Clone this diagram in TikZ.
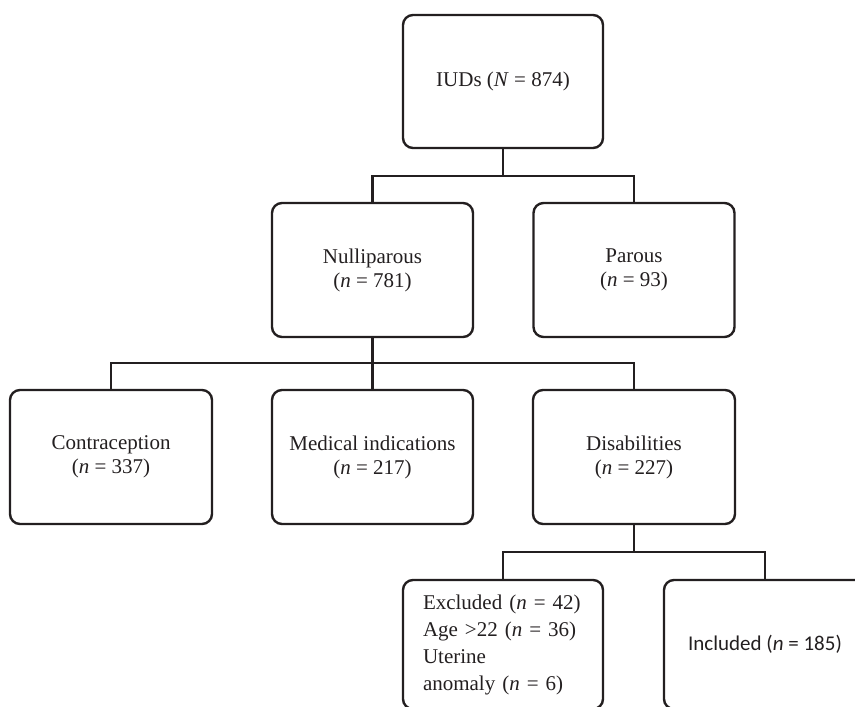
\documentclass[tikz,border=0pt]{standalone}
\usepackage{fontspec}
\setmainfont{Liberation Serif}
\newfontfamily\carlito{Carlito}
\definecolor{ink}{HTML}{231F20}
\begin{document}
\begin{tikzpicture}[x=1pt,y=-1pt,
  box/.style={draw=ink, line width=2.4pt, rounded corners=10pt,
    minimum width=201pt, minimum height=134pt, inner sep=0pt,
    align=center, text=ink, font=\fontsize{21}{24}\selectfont},
  link/.style={draw=ink, line width=2.4pt}]
\useasboundingbox (0,0) rectangle (855,707);
\clip (0,0) rectangle (855,707);
% level 1
\node[box, minimum width=200pt, minimum height=133pt] (iud) at (503,81.5) {IUDs (\textit{N} = 874)};
% level 2
\node[box] (null) at (372.5,270) {Nulliparous\\(\textit{n} = 781)};
\node[box] (par) at (634,270) {Parous\\(\textit{n} = 93)};
% level 3
\node[box, minimum width=202pt] (con) at (111,457) {Contraception\\(\textit{n} = 337)};
\node[box] (med) at (372.5,457) {Medical indications\\(\textit{n} = 217)};
\node[box, minimum width=202pt] (dis) at (634,457) {Disabilities\\(\textit{n} = 227)};
% level 4
\node[box, minimum width=200pt, minimum height=129pt, align=left, text width=160pt, inner xsep=20pt,
  font=\fontsize{21}{27}\selectfont] (exc) at (503,644.5)
  {Excluded (\textit{n} = 42)\\Age >22 (\textit{n} = 36)\\Uterine\\anomaly (\textit{n} = 6)};
\node[box, minimum width=202pt, minimum height=129pt, font=\carlito\fontsize{21}{24}\selectfont] (inc) at (765,644.5)
  {Included (\textit{n} = 185)};
% junctions
\coordinate (j1) at (503,176);
\coordinate (j2) at (372.5,363);
\coordinate (j3) at (634,552);
% connectors
\draw[link] (iud.south) -- (j1);
\draw[link] (null.north) -- (null.north |- j1) -- (par.north |- j1) -- (par.north);
\draw[link] (null.south) -- (j2);
\draw[link] (con.north) -- (con.north |- j2) -- (dis.north |- j2) -- (dis.north);
\draw[link] (med.north) -- (j2);
\draw[link] (dis.south) -- (j3);
\draw[link] (exc.north) -- (exc.north |- j3) -- (inc.north |- j3) -- (inc.north);
\end{tikzpicture}
\end{document}
